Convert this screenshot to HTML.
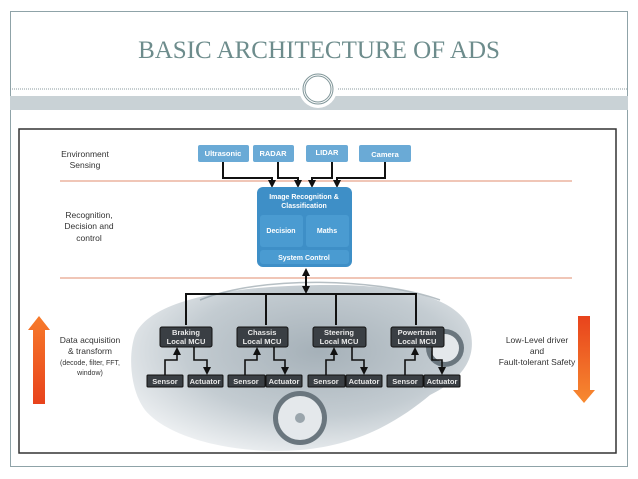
<!DOCTYPE html>
<html><head><style>
html,body{margin:0;padding:0;background:#fff;}
svg{display:block;font-family:"Liberation Sans",sans-serif;}
</style></head><body>
<svg width="638" height="479" viewBox="0 0 638 479" xmlns="http://www.w3.org/2000/svg">
<defs>
<linearGradient id="up" x1="0" y1="0" x2="0" y2="1"><stop offset="0" stop-color="#f77a2a"/><stop offset="1" stop-color="#e8431c"/></linearGradient>
<linearGradient id="dn" x1="0" y1="0" x2="0" y2="1"><stop offset="0" stop-color="#e8431c"/><stop offset="1" stop-color="#f78a30"/></linearGradient>
<radialGradient id="car" cx="0.55" cy="0.4" r="0.65"><stop offset="0" stop-color="#7f8f9a"/><stop offset="0.6" stop-color="#aab6be"/><stop offset="1" stop-color="#e6eaed"/></radialGradient>
<marker id="ar" markerUnits="userSpaceOnUse" markerWidth="8" markerHeight="8" refX="6" refY="4" orient="auto"><path d="M0,0 L8,4 L0,8z" fill="#111"/></marker>
<marker id="ars" markerUnits="userSpaceOnUse" markerWidth="8" markerHeight="8" refX="2" refY="4" orient="auto"><path d="M8,0 L0,4 L8,8z" fill="#111"/></marker>
</defs>
<rect x="10.5" y="11.5" width="617" height="455" fill="#fff" stroke="#8fa3a8"/>
<text x="319" y="58" text-anchor="middle" font-family="Liberation Serif,serif" font-size="25" fill="#6d8c8c">BASIC ARCHITECTURE OF ADS</text>
<line x1="10" y1="89" x2="628" y2="89" stroke="#8a9a9e" stroke-dasharray="1,1"/>
<rect x="10" y="96" width="618" height="14" fill="#c9d2d6"/>
<circle cx="318" cy="89" r="19" fill="#fff"/>
<circle cx="318" cy="89" r="15" fill="#fff" stroke="#7f9598" stroke-width="1"/>
<circle cx="318" cy="89" r="13" fill="none" stroke="#7f9598" stroke-width="1"/>
<rect x="19" y="129" width="597" height="324" fill="#fff" stroke="#333" stroke-width="1.5"/>
<!-- car -->
<path d="M135,335 C150,300 230,285 330,285 C410,285 460,300 470,330 C478,360 460,380 430,395 C400,420 360,445 300,450 C240,455 170,440 145,410 C130,390 128,355 135,335z" fill="url(#car)" opacity="0.7"/>
<path d="M200,300 C260,275 380,278 440,300" fill="none" stroke="#6e7f8a" stroke-width="1.5" opacity="0.5"/>
<circle cx="300" cy="418" r="27" fill="#6a767e"/><circle cx="300" cy="418" r="22" fill="#e4e8eb"/><circle cx="300" cy="418" r="5" fill="#9aa5ac"/>
<circle cx="445" cy="348" r="19" fill="#6a767e"/><circle cx="445" cy="348" r="14" fill="#e4e8eb"/>
<!-- left labels -->
<g font-size="8.5" fill="#333" text-anchor="middle">
<text x="85" y="157">Environment</text><text x="85" y="168">Sensing</text>
<text x="89" y="218">Recognition,</text><text x="89" y="229">Decision and</text><text x="89" y="241">control</text>
<text x="90" y="343">Data acquisition</text><text x="90" y="354">&amp; transform</text>
<text x="90" y="365" font-size="7">(decode, filter, FFT,</text><text x="90" y="375" font-size="7">window)</text>
<text x="537" y="343">Low-Level driver</text><text x="537" y="354">and</text><text x="537" y="365">Fault-tolerant Safety</text>
</g>
<line x1="60" y1="181" x2="572" y2="181" stroke="#e8a48c" stroke-width="1.2"/>
<line x1="60" y1="278" x2="572" y2="278" stroke="#e8a48c" stroke-width="1.2"/>
<!-- arrows -->
<path d="M33,404 L33,330 L28,330 L39,316 L50,330 L45,330 L45,404z" fill="url(#up)"/>
<path d="M578,316 L590,316 L590,390 L595,390 L584,403 L573,390 L578,390z" fill="url(#dn)"/>
<!-- sensors -->
<g fill="#6aaad6"><rect x="198" y="145" width="51" height="17" rx="2"/><rect x="253" y="145" width="41" height="17" rx="2"/><rect x="306" y="145" width="42" height="17" rx="2"/><rect x="359" y="145" width="52" height="17" rx="2"/></g>
<g font-size="7.5" font-weight="bold" fill="#fff" text-anchor="middle"><text x="223" y="156">Ultrasonic</text><text x="273" y="156">RADAR</text><text x="327" y="155">LIDAR</text><text x="385" y="157">Camera</text></g>
<g fill="none" stroke="#111" stroke-width="2">
<path d="M223,162 V178 H272 V186" marker-end="url(#ar)"/>
<path d="M278,162 V178 H298 V186" marker-end="url(#ar)"/>
<path d="M332,162 V178 H312 V186" marker-end="url(#ar)"/>
<path d="M385,162 V178 H337 V186" marker-end="url(#ar)"/>
</g>
<rect x="257" y="187" width="95" height="80" rx="6" fill="#3e8fc7"/>
<rect x="260" y="215" width="43" height="32" rx="3" fill="#4a9bd1"/>
<rect x="306" y="215" width="43" height="32" rx="3" fill="#4a9bd1"/>
<rect x="260" y="250" width="89" height="14" rx="3" fill="#4a9bd1"/>
<g font-size="7" font-weight="bold" fill="#fff" text-anchor="middle">
<text x="304" y="199">Image Recognition &amp;</text><text x="304" y="208">Classification</text>
<text x="281" y="233">Decision</text><text x="327" y="233">Maths</text><text x="304" y="260">System Control</text></g>
<g fill="none" stroke="#111" stroke-width="2">
<line x1="306" y1="270" x2="306" y2="292" marker-start="url(#ars)" marker-end="url(#ar)"/>
<path d="M186,325 V294 H416 V325"/><line x1="266" y1="294" x2="266" y2="325"/><line x1="336" y1="294" x2="336" y2="325"/>
</g>
<g fill="#3a3f44" stroke="#111"><rect x="160" y="327" width="52" height="20" rx="2"/><rect x="237" y="327" width="51" height="20" rx="2"/><rect x="313" y="327" width="53" height="20" rx="2"/><rect x="391" y="327" width="53" height="20" rx="2"/></g>
<g font-size="7.5" font-weight="bold" fill="#e8e8e8" text-anchor="middle">
<text x="186" y="335">Braking</text><text x="186" y="344">Local MCU</text>
<text x="262" y="335">Chassis</text><text x="262" y="344">Local MCU</text>
<text x="339" y="335">Steering</text><text x="339" y="344">Local MCU</text>
<text x="417" y="335">Powertrain</text><text x="417" y="344">Local MCU</text></g>
<g fill="none" stroke="#111" stroke-width="1.6">
<path d="M165,375 V360 H177 V349" marker-end="url(#ar)"/><path d="M194,347 V360 H207 V373" marker-end="url(#ar)"/>
<path d="M245,375 V360 H257 V349" marker-end="url(#ar)"/><path d="M274,347 V360 H285 V373" marker-end="url(#ar)"/>
<path d="M326,375 V360 H334 V349" marker-end="url(#ar)"/><path d="M352,347 V360 H364 V373" marker-end="url(#ar)"/>
<path d="M405,375 V360 H415 V349" marker-end="url(#ar)"/><path d="M432,347 V360 H442 V373" marker-end="url(#ar)"/>
</g>
<g fill="#3a3f44" stroke="#111"><rect x="147" y="375" width="36" height="12" rx="1"/><rect x="188" y="375" width="35" height="12" rx="1"/><rect x="228" y="375" width="37" height="12" rx="1"/><rect x="266" y="375" width="36" height="12" rx="1"/><rect x="308" y="375" width="37" height="12" rx="1"/><rect x="346" y="375" width="36" height="12" rx="1"/><rect x="387" y="375" width="36" height="12" rx="1"/><rect x="424" y="375" width="36" height="12" rx="1"/></g>
<g font-size="7.5" font-weight="bold" fill="#e8e8e8" text-anchor="middle">
<text x="165" y="384">Sensor</text><text x="205" y="384">Actuator</text><text x="246" y="384">Sensor</text><text x="284" y="384">Actuator</text><text x="326" y="384">Sensor</text><text x="364" y="384">Actuator</text><text x="405" y="384">Sensor</text><text x="442" y="384">Actuator</text></g>
</svg>
</body></html>
